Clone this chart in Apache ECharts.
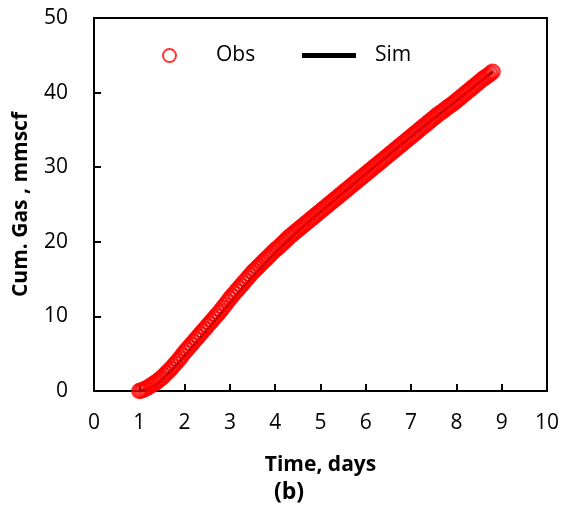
<!DOCTYPE html>
<html>
<head>
<meta charset="utf-8">
<script src="https://cdn.jsdelivr.net/npm/echarts@6/dist/echarts.min.js"></script>
<style>
  html, body { margin: 0; padding: 0; background: #fff; }
  #chart { width: 571px; height: 516px; }
</style>
</head>
<body>
<div id="chart"></div>
<script>
// Observed cumulative gas production (days, mmscf)
const obsDays = [
  1.00, 1.05, 1.10, 1.15, 1.20, 1.25, 1.30, 1.35, 1.40, 1.45,
  1.50, 1.55, 1.60, 1.65, 1.70, 1.75, 1.80, 1.85, 1.90, 1.95,
  2.00, 2.05, 2.10, 2.15, 2.20, 2.25, 2.30, 2.35, 2.40, 2.45,
  2.50, 2.55, 2.60, 2.65, 2.70, 2.75, 2.80, 2.85, 2.90, 2.95,
  3.00, 3.05, 3.10, 3.15, 3.20, 3.25, 3.30, 3.35, 3.40, 3.45,
  3.50, 3.55, 3.60, 3.65, 3.70, 3.75, 3.80, 3.85, 3.90, 3.95,
  4.00, 4.05, 4.10, 4.15, 4.20, 4.25, 4.30, 4.35, 4.40, 4.45,
  4.50, 4.55, 4.60, 4.65, 4.70, 4.75, 4.80, 4.85, 4.90, 4.95,
  5.00, 5.05, 5.10, 5.15, 5.20, 5.25, 5.30, 5.35, 5.40, 5.45,
  5.50, 5.55, 5.60, 5.65, 5.70, 5.75, 5.80, 5.85, 5.90, 5.95,
  6.00, 6.05, 6.10, 6.15, 6.20, 6.25, 6.30, 6.35, 6.40, 6.45,
  6.50, 6.55, 6.60, 6.65, 6.70, 6.75, 6.80, 6.85, 6.90, 6.95,
  7.00, 7.05, 7.10, 7.15, 7.20, 7.25, 7.30, 7.35, 7.40, 7.45,
  7.50, 7.55, 7.60, 7.65, 7.70, 7.75, 7.80, 7.85, 7.90, 7.95,
  8.00, 8.05, 8.10, 8.15, 8.20, 8.25, 8.30, 8.35, 8.40, 8.45,
  8.50, 8.55, 8.60, 8.65, 8.70, 8.75, 8.80
];
const obsGas = [
  0.00, 0.08, 0.20, 0.33, 0.50, 0.70, 0.90, 1.10, 1.30, 1.55,
  1.80, 2.10, 2.40, 2.70, 3.00, 3.35, 3.70, 4.05, 4.40, 4.80,
  5.20, 5.55, 5.90, 6.25, 6.60, 6.95, 7.30, 7.65, 8.00, 8.35,
  8.70, 9.05, 9.40, 9.75, 10.10, 10.45, 10.80, 11.20, 11.60, 12.00,
  12.40, 12.75, 13.10, 13.45, 13.80, 14.15, 14.50, 14.85, 15.20, 15.55,
  15.90, 16.20, 16.50, 16.80, 17.10, 17.40, 17.70, 18.00, 18.30, 18.60,
  18.90, 19.15, 19.40, 19.70, 20.00, 20.30, 20.60, 20.85, 21.10, 21.35,
  21.60, 21.85, 22.10, 22.35, 22.60, 22.85, 23.10, 23.35, 23.60, 23.85,
  24.10, 24.35, 24.60, 24.85, 25.10, 25.35, 25.60, 25.85, 26.10, 26.35,
  26.60, 26.85, 27.10, 27.35, 27.60, 27.85, 28.10, 28.35, 28.60, 28.85,
  29.10, 29.35, 29.60, 29.85, 30.10, 30.35, 30.60, 30.85, 31.10, 31.35,
  31.60, 31.85, 32.10, 32.35, 32.60, 32.85, 33.10, 33.35, 33.60, 33.85,
  34.10, 34.35, 34.60, 34.85, 35.10, 35.35, 35.60, 35.85, 36.10, 36.35,
  36.60, 36.85, 37.10, 37.30, 37.50, 37.75, 38.00, 38.20, 38.40, 38.65,
  38.90, 39.15, 39.40, 39.65, 39.90, 40.15, 40.40, 40.65, 40.90, 41.15,
  41.40, 41.65, 41.90, 42.10, 42.30, 42.55, 42.80
];

// Simulated cumulative gas production
const simDays = [1.0, 1.3, 1.6, 2.0, 2.5, 3.0, 3.5, 4.0, 4.5, 5.0, 6.0, 7.0, 8.0, 8.8];
const simGas  = [0.0, 0.6, 2.1, 4.7, 8.2, 11.8, 15.3, 18.5, 21.4, 24.0, 29.1, 34.1, 38.9, 42.8];

const xTicks = [0, 1, 2, 3, 4, 5, 6, 7, 8, 9, 10];
const yTicks = [0, 10, 20, 30, 40, 50];

const FONT = '"Open Sans", sans-serif';

const obsData = obsDays.map((d, i) => [d, obsGas[i]]);
const simData = simDays.map((d, i) => [d, simGas[i]]);

const chart = echarts.init(document.getElementById('chart'), null, { renderer: 'canvas' });

const axisCommon = {
  axisLine: { show: true, onZero: false, lineStyle: { color: '#000', width: 2 } },
  axisTick: { show: true, inside: true, length: 7, lineStyle: { color: '#000', width: 2 } },
  splitLine: { show: false },
  axisLabel: { color: '#000', fontFamily: FONT, fontSize: 21 },
  nameTextStyle: { color: '#000', fontFamily: FONT, fontSize: 21, fontWeight: 'bold' }
};

chart.setOption({
  animation: false,
  backgroundColor: '#fff',
  grid: {
    left: 94, right: 24, top: 18, bottom: 125,
    show: true, borderColor: '#000', borderWidth: 2, backgroundColor: 'transparent'
  },
  legend: [
    {
      data: [{ name: 'Obs', icon: 'circle' }],
      left: 162, top: 45, padding: 0,
      itemWidth: 13, itemHeight: 13,
      itemStyle: { color: 'transparent', borderColor: '#ff0000', borderWidth: 2 },
      textStyle: { color: '#000', fontFamily: FONT, fontSize: 21, padding: [0, 0, 0, 35] }
    },
    {
      data: [{ name: 'Sim', icon: 'rect' }],
      left: 302, top: 45, padding: 0,
      itemWidth: 54, itemHeight: 5,
      itemStyle: { color: '#000' },
      textStyle: { color: '#000', fontFamily: FONT, fontSize: 21, padding: [0, 0, 0, 14] }
    }
  ],
  xAxis: Object.assign({}, axisCommon, {
    type: 'value',
    min: xTicks[0], max: xTicks[xTicks.length - 1], interval: 1,
    name: 'Time, days', nameLocation: 'middle', nameGap: 64,
    axisLabel: Object.assign({}, axisCommon.axisLabel, { margin: 22 })
  }),
  yAxis: Object.assign({}, axisCommon, {
    type: 'value',
    min: yTicks[0], max: yTicks[yTicks.length - 1], interval: 10,
    name: 'Cum. Gas , mmscf', nameLocation: 'middle', nameGap: 62,
    axisLabel: Object.assign({}, axisCommon.axisLabel, { margin: 26 })
  }),
  series: [
    {
      name: 'Sim',
      type: 'line',
      data: simData,
      showSymbol: false,
      smooth: true,
      lineStyle: { color: '#000', width: 3 },
      itemStyle: { color: '#000' },
      z: 2
    },
    {
      name: 'Obs',
      type: 'scatter',
      data: obsData,
      symbol: 'circle',
      symbolSize: 14,
      itemStyle: { color: 'transparent', borderColor: '#ff0000', borderWidth: 2.5 },
      z: 3
    }
  ],
  graphic: [
    {
      type: 'text',
      left: 274, top: 481,
      style: { text: '(b)', fill: '#000', font: 'bold 23px "Open Sans", sans-serif' }
    }
  ]
});
</script>
</body>
</html>
